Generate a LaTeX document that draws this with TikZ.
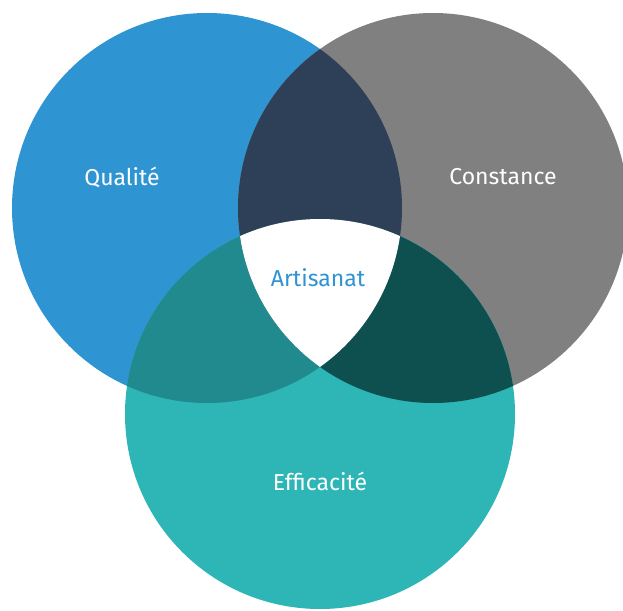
\documentclass[tikz,border=0pt]{standalone}
\usepackage{fontspec}
\setmainfont{Fira Sans}
\definecolor{qualblue}{RGB}{46,148,210}
\definecolor{constgrey}{RGB}{128,128,128}
\definecolor{effteal}{RGB}{46,181,181}
\definecolor{qcdark}{RGB}{46,64,87}
\definecolor{qeteal}{RGB}{33,138,142}
\definecolor{cedark}{RGB}{14,79,79}

\begin{document}
\begin{tikzpicture}[x=1pt,y=-1pt]
      \useasboundingbox (0,0) rectangle (623,610);
      \tikzset{lbl/.style={text=white,font=\fontsize{23}{27}\selectfont}}
      \coordinate (Q) at (207,208);
      \coordinate (C) at (433,208);
      \coordinate (E) at (320,414);
      % the three sets
      \fill [qualblue] (Q) circle [radius=195];
      \fill [constgrey] (C) circle [radius=195];
      \fill [effteal] (E) circle [radius=195];
      % pairwise overlaps
      \begin{scope}
        \clip (Q) circle [radius=195];
        \fill [qcdark] (C) circle [radius=195];
        \fill [qeteal] (E) circle [radius=195];
      \end{scope}
      \begin{scope}
        \clip (C) circle [radius=195];
        \fill [cedark] (E) circle [radius=195];
      \end{scope}
      % middle
      \begin{scope}
        \clip (Q) circle [radius=195];
        \clip (C) circle [radius=195];
        \fill [white] (E) circle [radius=195];
      \end{scope}
      \node [lbl] (qualite) at (122,177) {Qualité};
      \node [lbl] (constance) at (503,177) {Constance};
      \node [lbl] (efficacite) at (320,481) {Efficacité};
      \node [lbl,text=qualblue] (artisanat) at (318,278) {Artisanat};
    \end{tikzpicture}
\end{document}
